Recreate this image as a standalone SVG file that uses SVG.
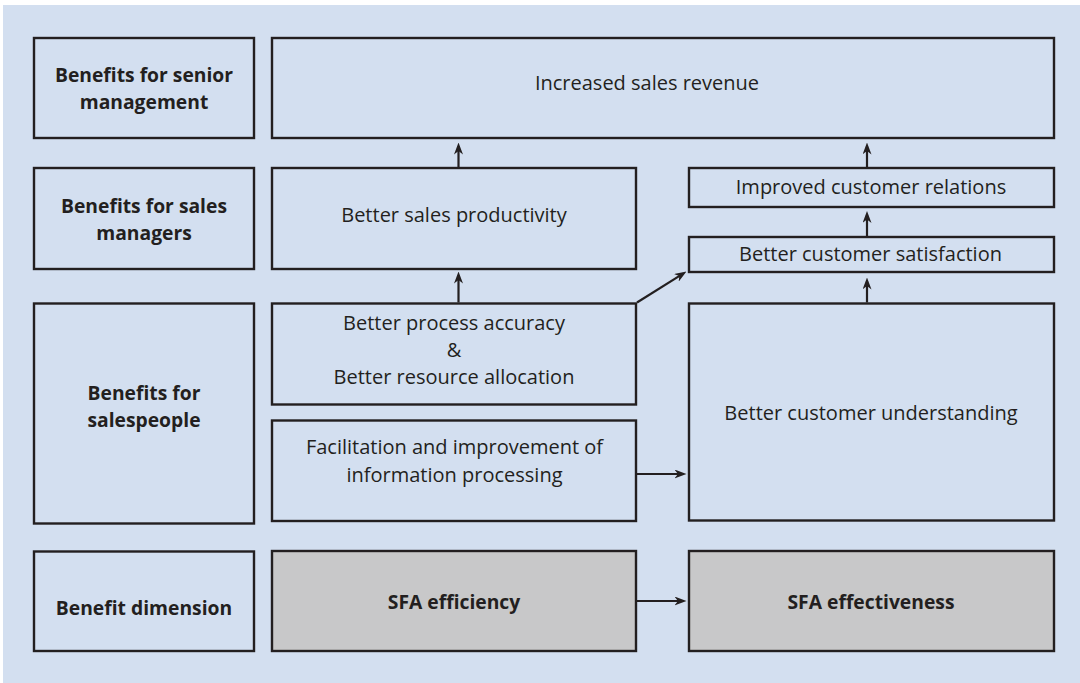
<svg xmlns="http://www.w3.org/2000/svg" width="1080" height="683" viewBox="0 0 1080 683">
<defs>
<style>
.box{fill:#d3dff0;stroke:#231f20;stroke-width:2.4}
.grey{fill:#c8c8c9;stroke:#231f20;stroke-width:2.4}
.t{font-family:"Open Sans","Noto Sans","Liberation Sans",sans-serif;font-size:20px;fill:#231f20;text-anchor:middle}
.b{font-weight:bold;font-size:19.3px}
.c{fill:none;stroke:#231f20;stroke-width:2.2}
</style>
<marker id="ah" markerUnits="userSpaceOnUse" viewBox="0 0 12 9" refX="8" refY="4.5" markerWidth="12" markerHeight="9" orient="auto">
<path d="M0,0 L12,4.5 L0,9 L3.5,4.5 z" fill="#231f20"/>
</marker>
</defs>
<rect x="0" y="0" width="1080" height="683" fill="#ffffff"/>
<rect x="3" y="5" width="1077" height="678" fill="#d3dff0"/>

<g id="label-senior"><rect class="box" x="34" y="38" width="220" height="100"/><text class="t b" x="144" y="82">Benefits for senior</text><text class="t b" x="144" y="109">management</text></g>
<g id="label-managers"><rect class="box" x="34" y="168" width="220" height="101"/><text class="t b" x="144" y="213">Benefits for sales</text><text class="t b" x="144" y="240">managers</text></g>
<g id="label-salespeople"><rect class="box" x="34" y="303.5" width="220" height="220"/><text class="t b" x="144" y="399.5">Benefits for</text><text class="t b" x="144" y="427">salespeople</text></g>
<g id="label-dimension"><rect class="box" x="34" y="551.5" width="220" height="99.5"/><text class="t b" x="144" y="615">Benefit dimension</text></g>

<g id="revenue"><rect class="box" x="272" y="38" width="782" height="100"/><text class="t" x="647" y="90">Increased sales revenue</text></g>
<g id="productivity"><rect class="box" x="272" y="168" width="364" height="101"/><text class="t" x="454" y="222">Better sales productivity</text></g>
<g id="accuracy"><rect class="box" x="272" y="303.5" width="364" height="101"/><text class="t" x="454" y="329.5">Better process accuracy</text><text class="t" x="454" y="357">&amp;</text><text class="t" x="454" y="384">Better resource allocation</text></g>
<g id="facilitation"><rect class="box" x="272" y="420.5" width="364" height="100.5"/><text class="t" x="454.5" y="454">Facilitation and improvement of</text><text class="t" x="454.5" y="481.5">information processing</text></g>
<g id="efficiency"><rect class="grey" x="272" y="551" width="364" height="100"/><text class="t b" x="454" y="609">SFA efficiency</text></g>

<g id="relations"><rect class="box" x="689" y="168" width="365" height="39"/><text class="t" x="871" y="194">Improved customer relations</text></g>
<g id="satisfaction"><rect class="box" x="689" y="237" width="365" height="35"/><text class="t" x="870.5" y="261">Better customer satisfaction</text></g>
<g id="understanding"><rect class="box" x="689" y="303.5" width="365" height="217"/><text class="t" x="871" y="419.5">Better customer understanding</text></g>
<g id="effectiveness"><rect class="grey" x="689" y="551" width="365" height="100"/><text class="t b" x="871" y="609">SFA effectiveness</text></g>

<g id="connectors">
<path class="c" d="M458.5,167 V146.5" marker-end="url(#ah)"/>
<path class="c" d="M458.5,302.5 V275.5" marker-end="url(#ah)"/>
<path class="c" d="M637,302.5 L683.1,273.6" marker-end="url(#ah)"/>
<path class="c" d="M867,167 V146.5" marker-end="url(#ah)"/>
<path class="c" d="M867,236 V215" marker-end="url(#ah)"/>
<path class="c" d="M867,302.5 V281.5" marker-end="url(#ah)"/>
<path class="c" d="M637,474 H682.5" marker-end="url(#ah)"/>
<path class="c" d="M637,601 H682.5" marker-end="url(#ah)"/>
</g>
</svg>
